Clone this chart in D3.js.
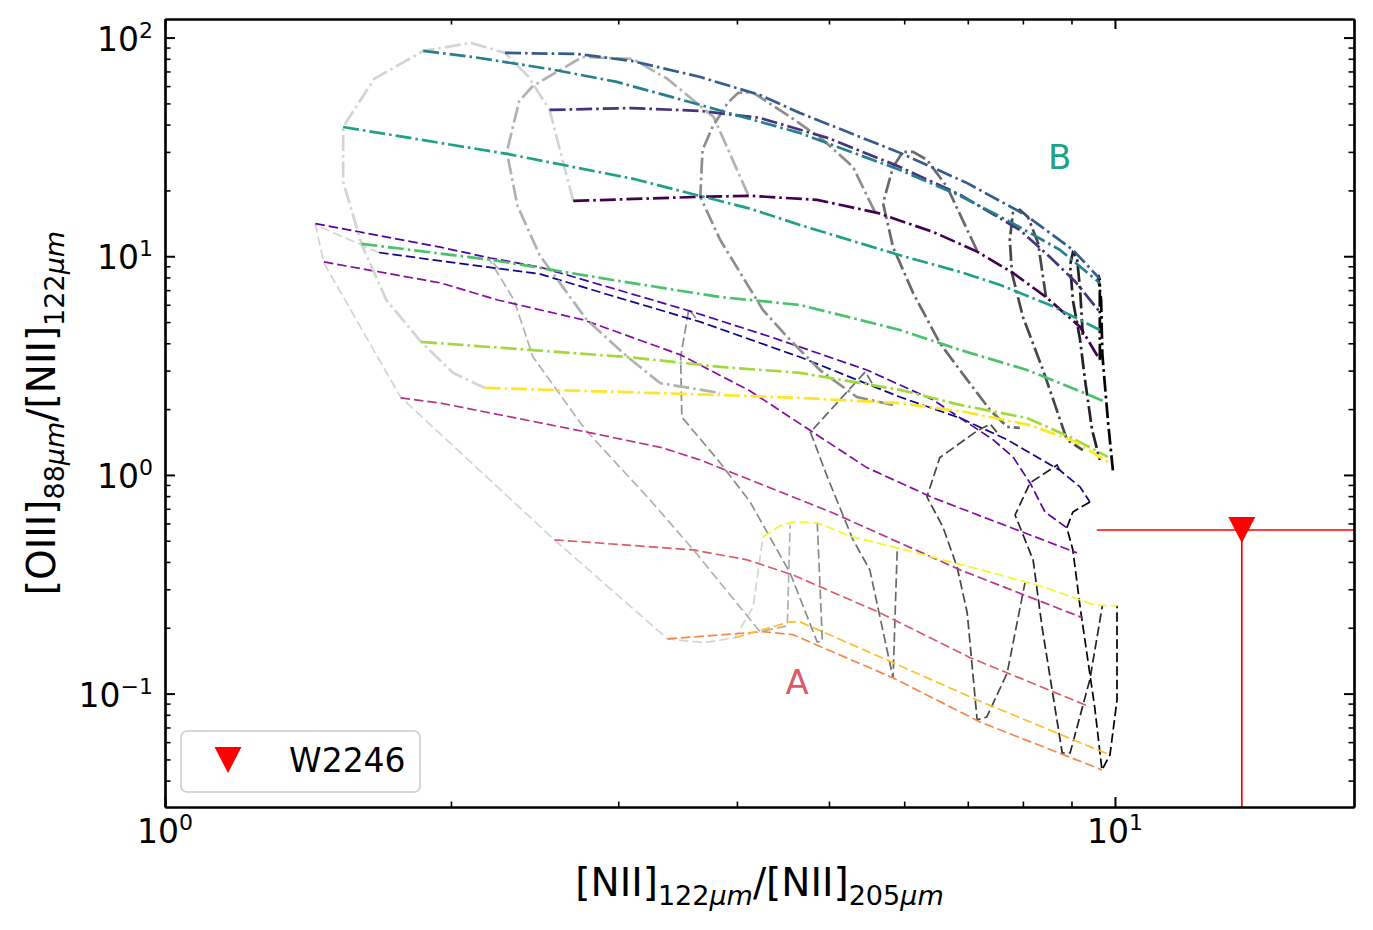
<!DOCTYPE html>
<html lang="en">
<head>
<meta charset="utf-8">
<title>[OIII]/[NII] vs [NII]/[NII] model grids</title>
<script src="https://d3js.org/d3.v7.min.js"></script>
<style>
  body { margin: 0; background: #fff; }
  text { font-family: "DejaVu Sans", sans-serif; fill: #000; }
</style>
</head>
<body>
<script>
// ---- data: [x, y] = [[NII]122/[NII]205, [OIII]88/[NII]122]

// grid A, coloured lines (dashed, plasma)
const modelA = [
  [[1.68,10.4],[1.95,9.52],[2.48,8.30],[2.96,6.58],[3.66,5.01],[4.66,3.46],[5.94,2.27],[6.87,1.82],[7.70,1.45],[8.75,1.05],[9.19,0.881],[9.41,0.752]],
  [[1.44,14.1],[1.95,11.0],[2.20,9.82],[2.48,8.93],[3.54,5.68],[4.34,4.28],[5.48,3.02],[6.44,2.20],[7.44,1.45],[7.81,1.21],[8.14,0.919],[8.44,0.677],[8.90,0.573]],
  [[1.47,9.42],[1.95,7.55],[2.24,6.31],[2.76,5.11],[3.49,3.54],[4.13,2.42],[5.48,1.08],[6.44,0.785],[9.12,0.440]],
  [[1.77,2.25],[1.95,2.13],[2.78,1.57],[3.34,1.33],[3.66,1.17],[5.05,0.670],[6.87,0.368],[9.25,0.222]],
  [[2.57,0.505],[3.60,0.454],[4.10,0.409],[4.58,0.349],[5.66,0.234],[7.04,0.146],[9.41,0.0870]],
  [[3.38,0.178],[4.26,0.192],[4.58,0.186],[5.84,0.118],[7.21,0.0742],[9.69,0.0448]],
  [[3.98,0.180],[4.55,0.213],[4.66,0.213],[5.66,0.147],[7.16,0.0935],[9.88,0.0524]],
  [[4.26,0.520],[4.44,0.585],[4.58,0.610],[4.86,0.604],[5.30,0.520],[5.90,0.464],[6.59,0.409],[7.44,0.356],[8.40,0.308],[9.52,0.254],[10.05,0.252]]
];

// grid A, grey lines (dashed, light to black)
const modelAgrey = [
  [[1.68,10.4],[1.44,13.9],[1.47,9.30],[1.77,2.27],[2.57,0.505],[3.38,0.178],[3.69,0.171],[3.98,0.180],[4.16,0.249],[4.26,0.520]],
  [[2.25,8.66],[2.19,9.82],[2.33,6.31],[2.44,3.46],[2.77,1.61],[3.24,0.769],[3.60,0.454],[4.23,0.192],[4.52,0.204],[4.55,0.591]],
  [[3.62,5.22],[3.56,5.74],[3.49,3.46],[3.50,1.84],[3.82,1.17],[4.13,0.752],[4.55,0.356],[4.86,0.172],[4.92,0.174],[4.86,0.604]],
  [[5.55,2.63],[5.46,2.96],[4.78,1.57],[4.98,0.979],[5.30,0.505],[5.52,0.368],[5.84,0.118],[5.90,0.464]],
  [[7.51,1.57],[7.39,1.71],[7.16,1.59],[6.54,1.20],[6.34,0.793],[6.59,0.578],[6.82,0.380],[6.99,0.234],[7.16,0.0758],[7.33,0.0782],[7.70,0.124],[8.04,0.321]],
  [[8.75,1.05],[8.69,1.11],[8.14,0.919],[7.85,0.656],[8.20,0.409],[8.38,0.202],[8.80,0.0535],[8.97,0.0535],[9.41,0.116],[9.70,0.252]],
  [[9.41,0.752],[9.03,0.677],[8.90,0.573],[9.03,0.454],[9.19,0.249],[9.52,0.087],[9.69,0.0448],[9.88,0.0524],[10.05,0.0935],[10.05,0.252]]
];

// grid B, coloured lines (dash-dot, viridis)
const modelB = [
  [[2.69,17.9],[3.66,18.7],[4.13,18.9],[4.86,18.1],[5.62,15.8],[6.44,12.9],[7.16,10.5],[7.81,8.39],[8.46,6.51],[9.19,4.75],[9.64,3.36]],
  [[2.54,46.7],[3.10,47.6],[3.66,46.2],[4.23,42.9],[4.99,34.7],[5.94,25.6],[6.87,19.1],[7.94,13.2],[8.54,9.93],[9.09,7.63],[9.64,5.56]],
  [[2.28,85.1],[2.72,84.1],[3.10,78.2],[3.66,66.0],[4.23,54.6],[4.66,45.2],[5.94,29.7],[6.99,21.6],[8.04,15.5],[9.03,10.7],[9.64,7.88]],
  [[1.87,86.9],[2.11,81.5],[2.54,71.8],[2.99,62.7],[3.66,49.2],[4.66,36.6],[5.94,24.8],[6.87,18.9],[7.75,14.4],[8.75,10.7],[9.64,7.55]],
  [[1.54,39.0],[2.29,29.4],[3.11,22.6],[4.13,16.5],[4.66,13.9],[5.94,10.1],[6.87,8.48],[7.57,7.39],[8.54,5.99],[9.64,4.60]],
  [[1.61,11.4],[2.21,9.62],[2.96,7.79],[3.84,6.51],[4.66,5.99],[5.94,4.60],[6.87,3.73],[8.08,3.02],[8.75,2.63],[9.77,2.16]],
  [[1.86,4.06],[2.42,3.73],[3.07,3.46],[3.84,3.12],[4.66,2.93],[5.94,2.45],[6.87,2.09],[8.08,1.82],[8.97,1.49],[9.83,1.21]],
  [[2.17,2.50],[2.96,2.40],[3.84,2.32],[4.66,2.25],[5.94,2.13],[6.95,1.94],[8.14,1.69],[9.08,1.42],[9.88,1.13]]
];

// grid B, grey lines (dash-dot, light to black)
const modelBgrey = [
  [[2.69,17.9],[2.54,46.7],[2.41,66.7],[2.28,85.1],[2.10,94.5],[1.87,86.9],[1.66,64.7],[1.54,39.0],[1.54,21.9],[1.61,11.4],[1.71,6.31],[1.86,4.06],[2.01,2.93],[2.17,2.50]],
  [[4.11,19.1],[3.78,43.4],[3.38,64.7],[3.11,79.8],[2.75,81.5],[2.44,60.1],[2.36,51.3],[2.29,30.0],[2.35,17.0],[2.48,10.1],[2.78,5.11],[3.07,3.46],[3.32,2.63],[3.84,2.37]],
  [[5.59,15.9],[5.30,25.6],[4.93,34.0],[4.55,43.4],[4.15,56.4],[4.01,55.8],[3.91,50.2],[3.77,39.0],[3.68,30.6],[3.66,18.7],[3.84,11.9],[4.26,5.68],[4.55,4.14],[4.89,3.02],[5.35,2.27],[5.84,2.09]],
  [[7.16,10.6],[6.99,13.2],[6.66,20.7],[6.34,27.6],[6.13,30.0],[5.98,30.0],[5.84,25.6],[5.70,17.5],[5.84,11.0],[6.13,6.80],[6.54,4.01],[6.99,2.72],[7.39,1.98],[7.70,1.66],[7.94,1.64]],
  [[8.46,6.51],[8.30,11.5],[8.10,15.1],[7.94,16.3],[7.81,15.8],[7.75,11.9],[7.79,8.39],[8.00,5.28],[8.40,3.02],[8.90,1.45],[9.25,1.30]],
  [[9.25,4.37],[9.19,7.01],[9.12,9.93],[9.03,10.4],[8.97,9.12],[9.03,6.31],[9.19,4.14],[9.30,2.72],[9.46,1.61],[9.64,1.17]],
  [[9.64,3.36],[9.64,5.56],[9.64,7.79],[9.60,8.21],[9.67,6.31],[9.70,3.54],[9.83,1.78],[9.95,1.05]]
];

// observed source (upper limits)
const obsName = "W2246";
const obsX = 13.6, obsY = 0.56;
const obsXlow = 9.57, obsXhigh = 30, obsYlow = 0.005;

// grid labels
const gridLabels = ["A", "B"];
const gridLabelPos = [[4.5, 0.1], [8.5, 25]];

// axis ticks
const xMajor = [1, 10], xMajorExp = ["0", "1"];
const yMajor = [0.1, 1, 10, 100], yMajorExp = ["\u22121", "0", "1", "2"];
const xMinor = [2, 3, 4, 5, 6, 7, 8, 9];
const yMinor = [0.04, 0.05, 0.06, 0.07, 0.08, 0.09, 0.2, 0.3, 0.4, 0.5, 0.6, 0.7, 0.8, 0.9,
                2, 3, 4, 5, 6, 7, 8, 9, 20, 30, 40, 50, 60, 70, 80, 90];

// ---- layout
const W = 1373, H = 930;
const margin = {top: 19, right: 19, bottom: 123, left: 165},
      width = W - margin.left - margin.right,
      height = H - margin.top - margin.bottom;

const svg = d3.select("body").append("svg")
    .attr("width", W)
    .attr("height", H);

const g = svg.append("g")
    .attr("transform", "translate(" + margin.left + "," + margin.top + ")");

g.append("clipPath").attr("id", "plotclip")
  .append("rect").attr("width", width).attr("height", height);

const x = d3.scaleLog().domain([1, 17.85]).range([0, width]);
const y = d3.scaleLog().domain([0.0303, 121.6]).range([height, 0]);

const line = d3.line().x(d => x(d[0])).y(d => y(d[1]));
const grey = (i, n) => { const v = Math.round(212 * (1 - i / (n - 1))); return d3.rgb(v, v, v).toString(); };

const plot = g.append("g").attr("clip-path", "url(#plotclip)");

const dashA = "9.5,4";
const dashB = "16,4,2.6,4";

// grid A
plot.append("g").selectAll("path")
  .data(modelAgrey).join("path")
    .attr("d", line)
    .attr("fill", "none")
    .attr("stroke", (d, i) => grey(i, modelAgrey.length))
    .attr("stroke-width", 1.7)
    .attr("stroke-dasharray", dashA);

plot.append("g").selectAll("path")
  .data(modelA).join("path")
    .attr("d", line)
    .attr("fill", "none")
    .attr("stroke", (d, i) => d3.interpolatePlasma(i / (modelA.length - 1)))
    .attr("stroke-width", 1.7)
    .attr("stroke-dasharray", dashA);

// grid B
plot.append("g").selectAll("path")
  .data(modelBgrey).join("path")
    .attr("d", line)
    .attr("fill", "none")
    .attr("stroke", (d, i) => grey(i, modelBgrey.length))
    .attr("stroke-width", 2.7)
    .attr("stroke-dasharray", dashB);

plot.append("g").selectAll("path")
  .data(modelB).join("path")
    .attr("d", line)
    .attr("fill", "none")
    .attr("stroke", (d, i) => d3.interpolateViridis(i / (modelB.length - 1)))
    .attr("stroke-width", 2.7)
    .attr("stroke-dasharray", dashB);

// grid labels, coloured like the middle line of each grid
const labelColors = [d3.interpolatePlasma(4 / 7), d3.interpolateViridis(4 / 7)];
g.selectAll(".gridlabel")
  .data(gridLabels).join("text")
    .attr("class", "gridlabel")
    .attr("x", (d, i) => x(gridLabelPos[i][0]))
    .attr("y", (d, i) => y(gridLabelPos[i][1]))
    .style("font-size", "34px")
    .style("fill", (d, i) => labelColors[i])
    .text(d => d);

// W2246 upper limits
plot.append("line")
    .attr("x1", x(obsXlow)).attr("x2", x(obsXhigh))
    .attr("y1", y(obsY)).attr("y2", y(obsY))
    .attr("stroke", "red").attr("stroke-width", 1.7);
plot.append("line")
    .attr("x1", x(obsX)).attr("x2", x(obsX))
    .attr("y1", y(obsY)).attr("y2", y(obsYlow))
    .attr("stroke", "red").attr("stroke-width", 1.7);

function triangleDown(cx, cy) {
  return "M" + (cx - 13.5) + "," + (cy - 13) + "L" + (cx + 13.5) + "," + (cy - 13) + "L" + cx + "," + (cy + 13) + "Z";
}
g.append("path")
    .attr("d", triangleDown(x(obsX), y(obsY)))
    .attr("fill", "red");

// ---- axes: inward ticks on all four sides
function styleAxis(a, w) {
  a.select(".domain").attr("stroke-width", 2.2).attr("stroke", "#000");
  a.selectAll(".tick line").attr("stroke-width", w).attr("stroke", "#000");
  a.selectAll(".tick text").remove();
}

const sides = [
  [d3.axisBottom, x, "translate(0," + height + ")"],
  [d3.axisTop, x, "translate(0,0)"],
  [d3.axisLeft, y, "translate(0,0)"],
  [d3.axisRight, y, "translate(" + width + ",0)"]
];
sides.forEach(([axisFn, sc, tr]) => {
  const isX = sc === x;
  g.append("g").attr("transform", tr)
    .call(axisFn(sc).tickValues(isX ? xMinor : yMinor).tickSize(-5.5).tickSizeOuter(0))
    .call(a => styleAxis(a, 1.6));
  g.append("g").attr("transform", tr)
    .call(axisFn(sc).tickValues(isX ? xMajor : yMajor).tickSize(-10).tickSizeOuter(0))
    .call(a => styleAxis(a, 2));
});

// tick labels as 10^n
function powerLabel(t, exp) {
  t.append("tspan").text("10");
  t.append("tspan").attr("dy", -13).style("font-size", "22px").text(exp);
}

xMajor.forEach((v, i) => {
  const t = g.append("text")
    .attr("x", x(v))
    .attr("y", height + 36)
    .attr("text-anchor", "middle")
    .style("font-size", "33px");
  powerLabel(t, xMajorExp[i]);
});

yMajor.forEach((v, i) => {
  const t = g.append("text")
    .attr("x", -12)
    .attr("y", y(v) + 13)
    .attr("text-anchor", "end")
    .style("font-size", "33px");
  powerLabel(t, yMajorExp[i]);
});

// axis titles with subscripts
function ratioLabel(t, a, aSub, b, bSub) {
  t.append("tspan").text(a);
  t.append("tspan").attr("dy", 9).style("font-size", "27px").text(aSub);
  t.append("tspan").style("font-size", "27px").style("font-style", "italic").text("\u03bcm");
  t.append("tspan").attr("dy", -9).text("/" + b);
  t.append("tspan").attr("dy", 9).style("font-size", "27px").text(bSub);
  t.append("tspan").style("font-size", "27px").style("font-style", "italic").text("\u03bcm");
}

const xTitle = g.append("text")
    .attr("x", width / 2)
    .attr("y", height + 89)
    .attr("text-anchor", "middle")
    .style("font-size", "39px");
ratioLabel(xTitle, "[NII]", "122", "[NII]", "205");

const yTitle = g.append("text")
    .attr("transform", "translate(" + (-110) + "," + (height / 2) + ") rotate(-90)")
    .attr("text-anchor", "middle")
    .style("font-size", "39px");
ratioLabel(yTitle, "[OIII]", "88", "[NII]", "122");

// legend
const legend = g.append("g").attr("transform", "translate(16,712)");
legend.append("rect")
    .attr("width", 239).attr("height", 61)
    .attr("rx", 6)
    .attr("fill", "white").attr("fill-opacity", 0.8)
    .attr("stroke", "#cccccc").attr("stroke-width", 1.6);
legend.append("path")
    .attr("d", triangleDown(47, 29))
    .attr("fill", "red");
legend.append("text")
    .attr("x", 108)
    .attr("y", 41)
    .style("font-size", "33px")
    .text(obsName);
</script>
</body>
</html>
